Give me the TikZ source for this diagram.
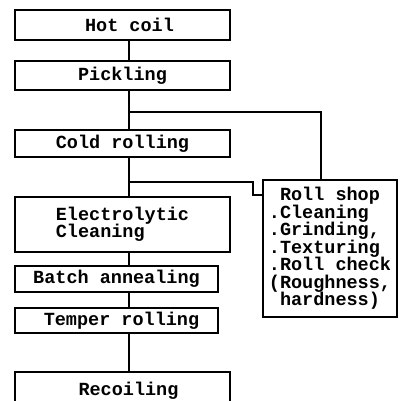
\documentclass[tikz,border=0pt]{standalone}
\usepackage{fontspec}
\setmonofont{Liberation Mono}
\begin{document}
\begin{tikzpicture}[x=1pt,y=-1pt,
  box/.style={draw,line width=1.3pt,rectangle,inner sep=0pt,font=\fontsize{18.5}{17.5}\ttfamily\bfseries},
  link/.style={line width=1.3pt}]
\useasboundingbox (0,0) rectangle (399,401);
\node[box,minimum width=215pt,minimum height=30pt] (hot) at (122.5,25) {\hspace{14pt}Hot coil};
\node[box,minimum width=215pt,minimum height=29pt] (pick) at (122.5,75.5) {Pickling};
\node[box,minimum width=215pt,minimum height=27pt] (cold) at (122.5,143.5) {Cold rolling};
\node[box,minimum width=215pt,minimum height=55pt,align=left] (elec) at (122.5,224.5) {Electrolytic\\Cleaning\hspace{44pt}};
\node[box,minimum width=203pt,minimum height=26pt] (batch) at (116.5,279) {Batch annealing};
\node[box,minimum width=203pt,minimum height=25pt] (temper) at (116.5,320.5) {\hspace{10pt}Temper rolling};
\node[box,minimum width=215pt,minimum height=38pt,text depth=0pt] (recoil) at (122.5,391) {\raisebox{4pt}{\hspace{12pt}Recoiling}};
\node[box,minimum width=134pt,minimum height=137pt,align=left] (roll) at (330,248.5) {\raisebox{0pt}{}~Roll shop\\.Cleaning\\.Grinding,\\.Texturing\\.Roll check\\(Roughness,\\~hardness)};
\draw[link] ([xshift=6.5pt]hot.south) -- ([xshift=6.5pt]pick.north);
\draw[link] ([xshift=6.5pt]pick.south) -- ([xshift=6.5pt]cold.north);
\draw[link] ([xshift=6.5pt]cold.south) -- ([xshift=6.5pt]elec.north);
\draw[link] ([xshift=6.5pt]elec.south) -- ([xshift=12.5pt]batch.north);
\draw[link] ([xshift=12.5pt]batch.south) -- ([xshift=12.5pt]temper.north);
\draw[link] ([xshift=12.5pt]temper.south) -- ([xshift=6.5pt]recoil.north);
\coordinate (b1) at (129,112);
\coordinate (b2) at (129,182);
\coordinate (r2) at (263,195);
\draw[link] (b1) -| ([xshift=-9pt]roll.north);
\draw[link] (b2) -- (253,182) |- (r2);
\end{tikzpicture}
\end{document}
